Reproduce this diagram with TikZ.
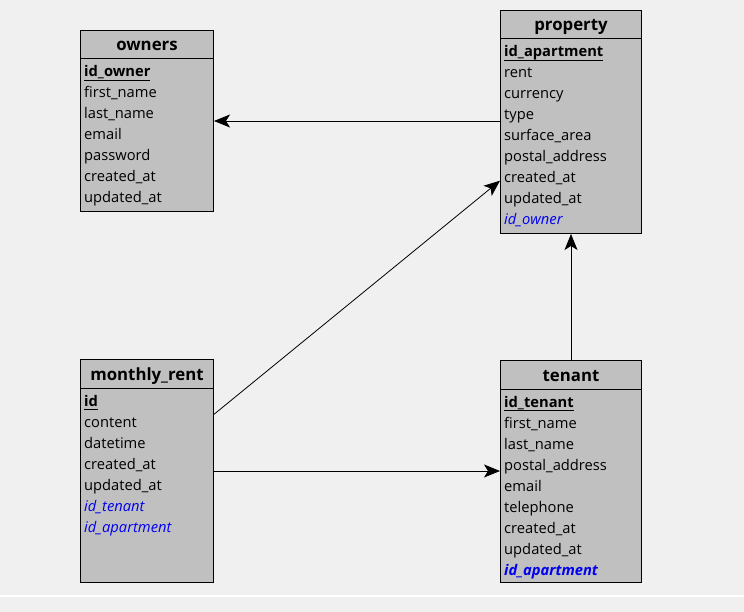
\documentclass[tikz,border=0pt]{standalone}
\usepackage{fontspec}
\setmainfont{Open Sans}
\usetikzlibrary{arrows.meta,calc}
\definecolor{bg}{HTML}{F0F0F0}
\definecolor{boxgray}{HTML}{C0C0C0}
\definecolor{fkblue}{HTML}{0000F0}
\newcommand\keyf[1]{\setbox0\hbox{\bfseries #1}\rlap{\rule[-3.5pt]{\wd0}{0.9pt}}\box0}
\newcommand\fkf[1]{{\color{fkblue}\itshape #1}}
\newcommand\fkbf[1]{{\color{fkblue}\bfseries\itshape #1}}
\tikzset{
  tbl/.style={draw=black, line width=1pt, fill=boxgray, anchor=north west, inner sep=0pt},
  ttl/.style={font=\fontsize{16.8}{18}\selectfont\bfseries, inner sep=0pt},
  fld/.style={font=\fontsize{14.7}{16}\selectfont, anchor=base west, inner sep=0pt},
  arr/.style={line width=0.8pt, -{Stealth[length=16pt,width=13pt,inset=4pt]}}
}
\newcommand\erbox[6]{%
  % #1 name, #2 x, #3 y top, #4 width, #5 height, #6 title
  \node[tbl, minimum width=#4pt, minimum height=#5pt] (#1) at (#2,#3) {};
  \draw[line width=1pt] ($(#1.north west)+(0,29)$) -- ($(#1.north east)+(0,29)$);
  \node[ttl, anchor=base] (#1-title) at ($(#1.north)+(0,21)$) {#6};
}
\begin{document}
\begin{tikzpicture}[x=1pt,y=-1pt]
\useasboundingbox (0,0) rectangle (744,612);
\fill[bg] (0,0) rectangle (744,612);
\draw[white, line width=1.5pt] (0,596) -- (744,596);

\erbox{owners}{80}{30}{133}{181}{owners}
\erbox{property}{500}{10}{141}{223}{property}
\erbox{mrent}{80}{359}{133}{223}{monthly\_rent}
\erbox{tenant}{500}{360}{141}{222}{tenant}

\foreach \t [count=\i from 0] in {{\keyf{id\_owner}},first\_name,last\_name,email,password,created\_at,updated\_at}
  \node[fld] (owners-r\i) at (84,77+21*\i) {\t};
\foreach \t [count=\i from 0] in {{\keyf{id\_apartment}},rent,currency,type,surface\_area,postal\_address,created\_at,updated\_at,{\fkf{id\_owner}}}
  \node[fld] (property-r\i) at (504,57+21*\i) {\t};
\foreach \t [count=\i from 0] in {{\keyf{id}},content,datetime,created\_at,updated\_at,{\fkf{id\_tenant}},{\fkf{id\_apartment}}}
  \node[fld] (mrent-r\i) at (84,406+21*\i) {\t};
\foreach \t [count=\i from 0] in {{\keyf{id\_tenant}},first\_name,last\_name,postal\_address,email,telephone,created\_at,updated\_at,{\fkbf{id\_apartment}}}
  \node[fld] (tenant-r\i) at (504,407+21*\i) {\t};

\draw[arr] (owners.east -| property.west) -- (owners.east);
\draw[arr] ($(mrent.north east)!0.247!(mrent.south east)$) -- ($(property.north west)!0.762!(property.south west)$);
\draw[arr] (mrent.east) -- (mrent.east -| tenant.west);
\draw[arr] (tenant.north) -- (property.south);
\end{tikzpicture}
\end{document}
